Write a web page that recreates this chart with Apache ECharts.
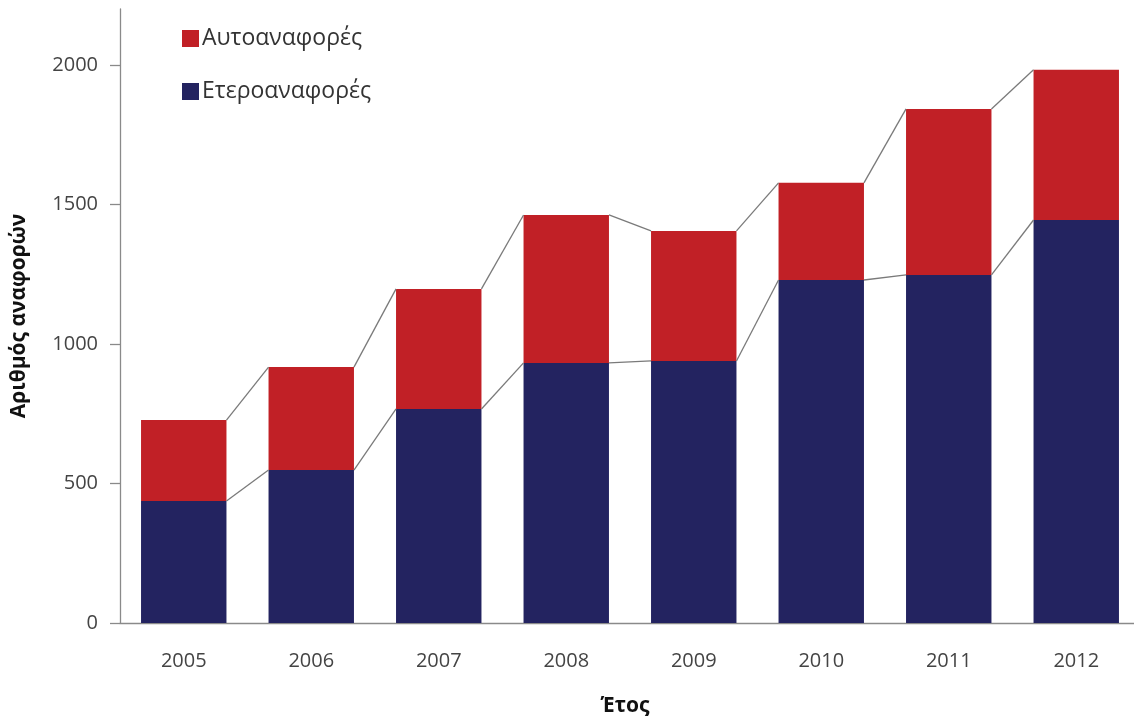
<!DOCTYPE html>
<html><head><meta charset="utf-8">
<script src="https://cdn.jsdelivr.net/npm/echarts@6/dist/echarts.min.js"></script>
<style>html,body{margin:0;padding:0;background:#fff;overflow:hidden}#c{width:1134px;height:720px}</style>
</head><body><div id="c"></div>
<script>
const years = ['2005','2006','2007','2008','2009','2010','2011','2012'];
const hetero = [437, 548, 767, 932, 939, 1229, 1247, 1444];
const selfRef = [290, 369, 430, 530, 466, 348, 595, 538];
const yTicks = [0, 500, 1000, 1500, 2000];

const totals = hetero.map((v, i) => v + selfRef[i]);
const chart = echarts.init(document.getElementById('c'));

function seriesLine(values) {
  return {
    type: 'custom',
    silent: true,
    z: 5,
    data: values.map((v, i) => [i, v]),
    renderItem: function (params, api) {
      const i = params.dataIndex;
      if (i >= values.length - 1) return null;
      const band = api.size([1, 0])[0];
      const half = band * 0.335;
      const p1 = api.coord([i, values[i]]);
      const p2 = api.coord([i + 1, values[i + 1]]);
      return {
        type: 'line',
        shape: { x1: p1[0] + half, y1: p1[1], x2: p2[0] - half, y2: p2[1] },
        style: { stroke: '#7a7a7a', lineWidth: 1.3 }
      };
    }
  };
}

chart.setOption({
  animation: false,
  backgroundColor: '#fff',
  grid: { left: 120, right: -6, top: 9, bottom: 97, outerBoundsMode: 'none', containLabel: false },
  legend: {
    orient: 'vertical', left: 177, top: 22, itemGap: 30,
    itemWidth: 17, itemHeight: 17, icon: 'rect',
    data: ['Αυτοαναφορές', 'Ετεροαναφορές'],
    textStyle: { fontSize: 23, color: '#333', fontFamily: 'Open Sans', padding: [0, 0, 0, -2] }
  },
  xAxis: {
    type: 'category', data: years,
    name: 'Έτος', nameLocation: 'middle', nameGap: 73,
    nameTextStyle: { fontSize: 21, fontWeight: 'bold', color: '#111', fontFamily: 'Open Sans', padding: [0, 0, 0, -10] },
    axisLine: { lineStyle: { color: '#8a8a8a', width: 1.3 } },
    axisTick: { show: false },
    axisLabel: { fontSize: 20, color: '#444', margin: 28, fontFamily: 'Open Sans' }
  },
  yAxis: {
    type: 'value', min: 0, max: 2200, interval: 500,
    name: 'Αριθμός αναφορών', nameLocation: 'middle', nameGap: 90, nameRotate: 90,
    nameTextStyle: { fontSize: 21, fontWeight: 'bold', color: '#111', fontFamily: 'Open Sans' },
    splitLine: { show: false },
    axisLine: { show: true, lineStyle: { color: '#8a8a8a', width: 1.3 } },
    axisTick: { show: true, length: 10, customValues: yTicks, lineStyle: { color: '#8a8a8a', width: 1.3 } },
    axisLabel: { fontSize: 20, color: '#444', margin: 22, customValues: yTicks, fontFamily: 'Open Sans',
      formatter: v => String(v) }
  },
  series: [
    { name: 'Ετεροαναφορές', type: 'bar', stack: 'a', data: hetero, barWidth: '67%',
      itemStyle: { color: '#232360' } },
    { name: 'Αυτοαναφορές', type: 'bar', stack: 'a', data: selfRef, barWidth: '67%',
      itemStyle: { color: '#C12026' } },
    seriesLine(hetero),
    seriesLine(totals)
  ]
});
</script></body></html>
